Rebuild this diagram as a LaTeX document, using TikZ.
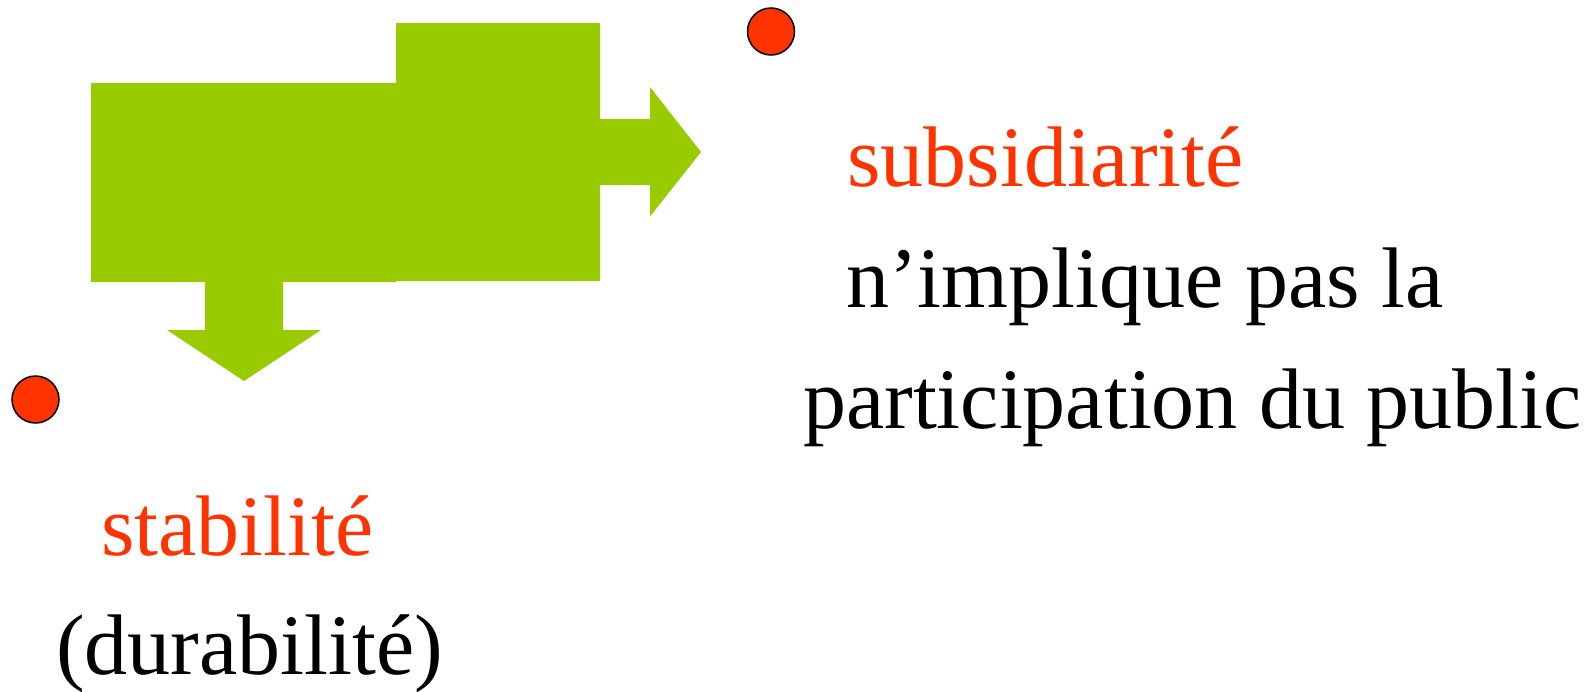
\documentclass[tikz,border=0pt]{standalone}
\usepackage{fontspec}
\setmainfont{Liberation Serif}
\definecolor{arrowgreen}{HTML}{99CC00}
\definecolor{dotred}{HTML}{FF3300}
\tikzset{
  blockarrow/.style={fill=arrowgreen, draw=none},
  bullet/.style={circle, fill=dotred, draw=black, line width=1.5pt, minimum size=47pt, inner sep=0pt},
  txt/.style={anchor=base west, inner sep=0pt, font=\fontsize{86}{100}\selectfont},
  redtxt/.style={txt, text=dotred},
  blacktxt/.style={txt, text=black}
}
\begin{document}
\begin{tikzpicture}[x=1pt,y=-1pt]
\useasboundingbox (0,0) rectangle (1596,691);
% left block with down arrow
\fill[blockarrow] (91,83) -- (396,83) -- (396,282) -- (283,282) -- (283,330) -- (321,330)
  -- (244,381) -- (167,330) -- (205,330) -- (205,282) -- (91,282) -- cycle;
% right block with right arrow
\fill[blockarrow] (396,23) -- (600,23) -- (600,119) -- (650,119) -- (650,87) -- (701,152)
  -- (650,216.5) -- (650,185) -- (600,185) -- (600,281) -- (396,281) -- cycle;
% bullets
\node[bullet] (dotL) at (35.5,399.5) {};
\node[bullet] (dotR) at (771,31.5) {};
% texts
\node[redtxt] (subs) at (847,186) {subsidiarité};
\node[blacktxt] (impl) at (846,307) {n’implique pas la};
\node[blacktxt] (part) at (803,428) {participation du public};
\node[redtxt] (stab) at (101,555) {stabilité};
\node[blacktxt] (dura) at (56,674) {(durabilité)};
\end{tikzpicture}
\end{document}
